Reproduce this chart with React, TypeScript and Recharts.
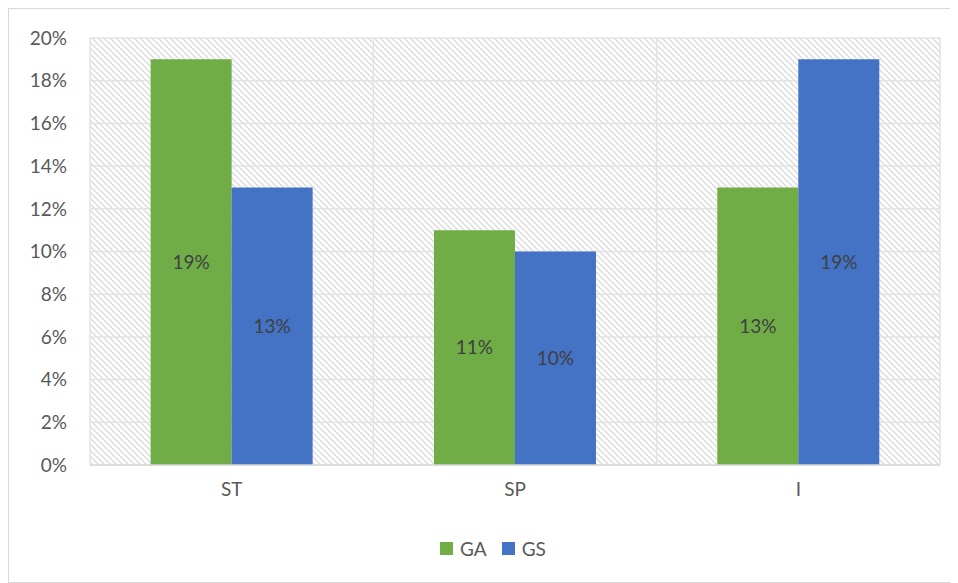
import React from "react";
import {
	BarChart,
	Bar,
	XAxis,
	YAxis,
	CartesianGrid,
	Legend,
	LabelList
} from "recharts";

const categories = ["ST", "SP", "I"];
const gaValues = [19, 11, 13];
const gsValues = [13, 10, 19];
const yTicks = [0, 2, 4, 6, 8, 10, 12, 14, 16, 18, 20];

const data = categories.map((name, i) => ({
	name,
	GA: gaValues[i],
	GS: gsValues[i]
}));

const FONT = "Lato, 'Open Sans', sans-serif";
const pct = (v: number) => `${v}%`;

const renderLegend = ({ payload }: any) => (
	<div
		style={{
			display: "flex",
			justifyContent: "center",
			alignItems: "center",
			paddingLeft: 20,
			fontSize: 19,
			color: "#595959",
			fontFamily: FONT,
			height: 23
		}}
	>
		{(payload || []).map((entry: any, i: number) => (
			<span
				key={entry.value}
				style={{ display: "flex", alignItems: "center", marginLeft: i ? 15 : 0 }}
			>
				<span
					style={{
						width: 13,
						height: 13,
						background: entry.color,
						display: "inline-block",
						marginRight: 7
					}}
				/>
				{entry.value}
			</span>
		))}
	</div>
);

export default function App() {
	return (
		<div
			style={{
				width: 950,
				height: 575,
				border: "1px solid #d9d9d9",
				boxSizing: "border-box",
				fontFamily: FONT,
				background: "#fff"
			}}
		>
			<BarChart
				width={948}
				height={573}
				data={data}
				margin={{ top: 29, right: 17, left: 0, bottom: 22 }}
				barCategoryGap="21.4%"
				barGap={0}
			>
				<defs>
					<pattern id="hatch" width={6} height={6} patternUnits="userSpaceOnUse">
						<rect width={6} height={6} fill="#ffffff" />
						<path
							d="M0,0 L6,6 M-1,5 L1,7 M5,-1 L7,1"
							stroke="#dcdcdc"
							strokeWidth={1.4}
						/>
					</pattern>
				</defs>
				<CartesianGrid
					fill="url(#hatch)"
					fillOpacity={1}
					stroke="#e3e3e3"
					strokeWidth={1.5}
					verticalCoordinatesGenerator={({ offset }: any) => [
						offset.left,
						offset.left + offset.width / 3,
						offset.left + (2 * offset.width) / 3,
						offset.left + offset.width
					]}
				/>
				<XAxis
					dataKey="name"
					height={72}
					tickLine={false}
					axisLine={{ stroke: "#d9d9d9", strokeWidth: 1.5 }}
					tick={{ fill: "#595959", fontSize: 19, fontFamily: FONT }}
					tickMargin={12}
				/>
				<YAxis
					width={81}
					domain={[0, 20]}
					ticks={yTicks}
					tickFormatter={pct}
					tickLine={false}
					axisLine={false}
					tick={{ fill: "#595959", fontSize: 19, fontFamily: FONT }}
					tickMargin={17}
				/>
				<Legend
					verticalAlign="bottom"
					wrapperStyle={{ left: 0, width: 948 }}
					content={renderLegend}
				/>
				<Bar dataKey="GA" fill="#70AD47" isAnimationActive={false}>
					<LabelList
						dataKey="GA"
						position="center"
						formatter={pct}
						fill="#404040"
						fontSize={19}
						fontFamily={FONT}
					/>
				</Bar>
				<Bar dataKey="GS" fill="#4472C4" isAnimationActive={false}>
					<LabelList
						dataKey="GS"
						position="center"
						formatter={pct}
						fill="#404040"
						fontSize={19}
						fontFamily={FONT}
					/>
				</Bar>
			</BarChart>
		</div>
	);
}
